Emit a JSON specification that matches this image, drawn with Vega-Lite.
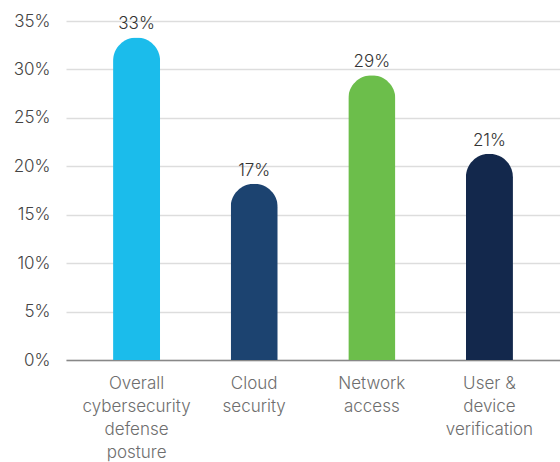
{
  "$schema": "https://vega.github.io/schema/vega-lite/v6.json",
  "autosize": "none",
  "padding": {"left": 66, "top": 21, "right": 0, "bottom": 102},
  "width": 494,
  "height": 339,
  "background": "white",
  "config": {
    "view": {"stroke": null},
    "font": "Inter"
  },
  "data": {
    "values": [
      {"category": "Overall cybersecurity defense posture", "value": 33.3, "label": "33%", "color": "#1BBCEB"},
      {"category": "Cloud security", "value": 18.2, "label": "17%", "color": "#1C4370"},
      {"category": "Network access", "value": 29.4, "label": "29%", "color": "#6CBE4B"},
      {"category": "User & device verification", "value": 21.3, "label": "21%", "color": "#13284C"}
    ]
  },
  "encoding": {
    "x": {
      "field": "category",
      "type": "nominal",
      "sort": null,
      "scale": {"paddingInner": 0.6, "paddingOuter": 0.4},
      "axis": {
        "title": null,
        "labelAngle": 0,
        "ticks": false,
        "domainColor": "#888888",
        "domainWidth": 1.5,
        "labelColor": "#6E6E6E",
        "labelFontSize": 17,
        "labelFontWeight": 300,
        "labelLineHeight": 23,
        "labelPadding": 15,
        "labelLimit": 200,
        "labelExpr": "datum.value == 'Overall cybersecurity defense posture' ? ['Overall','cybersecurity','defense','posture'] : datum.value == 'Cloud security' ? ['Cloud','security'] : datum.value == 'Network access' ? ['Network','access'] : ['User &','device','verification']"
      }
    },
    "y": {
      "field": "value",
      "type": "quantitative",
      "scale": {"domain": [0, 35]},
      "axis": {
        "title": null,
        "values": [0, 5, 10, 15, 20, 25, 30, 35],
        "labelExpr": "datum.value + '%'",
        "domain": false,
        "ticks": false,
        "gridColor": "#DDDDDD",
        "gridWidth": 1.5,
        "labelColor": "#444444",
        "labelFontSize": 17,
        "labelFontWeight": 300,
        "labelPadding": 16
      }
    }
  },
  "layer": [
    {
      "mark": {"type": "bar", "cornerRadiusTopLeft": 23.5, "cornerRadiusTopRight": 23.5},
      "encoding": {
        "color": {"field": "color", "type": "nominal", "scale": null}
      }
    },
    {
      "mark": {"type": "text", "baseline": "alphabetic", "dy": -8, "fontSize": 17, "fontWeight": 300, "color": "#333333"},
      "encoding": {
        "text": {"field": "label"}
      }
    }
  ]
}
